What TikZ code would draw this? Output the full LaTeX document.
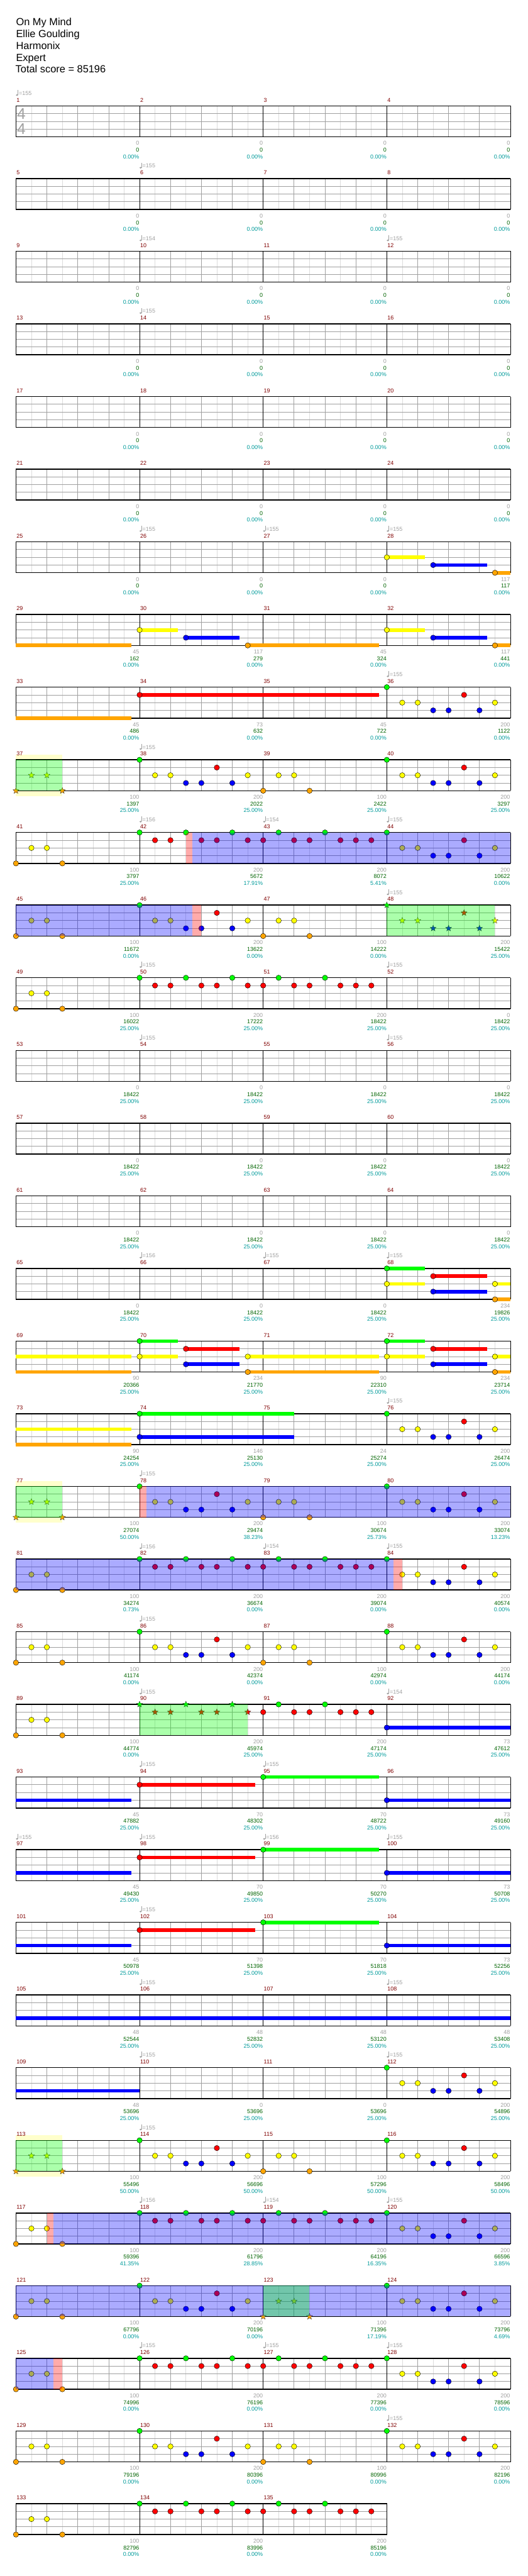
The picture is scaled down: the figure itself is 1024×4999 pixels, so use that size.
\documentclass[tikz,border=0pt]{standalone}
\usepackage{fontspec}
\setmainfont{Liberation Sans}
\usetikzlibrary{shapes.geometric}
\definecolor{lc0}{HTML}{00FF00}
\definecolor{lc1}{HTML}{FF0000}
\definecolor{lc2}{HTML}{FFFF00}
\definecolor{lc3}{HTML}{0000FF}
\definecolor{lc4}{HTML}{FFA500}
\definecolor{mnumc}{HTML}{800000}
\definecolor{gryc}{HTML}{A0A0A0}
\definecolor{grnc}{HTML}{006400}
\definecolor{teac}{HTML}{009B9B}
\definecolor{gline}{HTML}{A0A0A0}
\definecolor{lline}{HTML}{DCDCDC}
\definecolor{bandc}{HTML}{FFFFCC}
\tikzset{
  notest/.style={draw=black, line width=0.5pt},
  starst/.style={star, star points=5, star point ratio=2.3, minimum size=12.5pt, inner sep=0pt, draw=black!85, line width=0.4pt},
  small/.style={inner sep=0pt, font=\fontsize{11}{13}\selectfont},
  gry/.style={small, anchor=east, text=gryc},
  grn/.style={small, anchor=east, text=grnc},
  tea/.style={small, anchor=east, text=teac},
  mnum/.style={small, anchor=west, text=mnumc},
  tmp/.style={small, anchor=west, text=gryc},
  ttl/.style={anchor=base west, inner sep=0pt, font=\fontsize{20}{24}\selectfont},
}
% note, star, sustain
\newcommand\gNote[3]{\filldraw[notest, fill=lc#3] ({31+30*(#2)},{205.5+141*(#1)+15*(#3)}) circle (5.2pt);}
\newcommand\gStar[3]{\node[starst, fill=lc#3] at ({31+30*(#2)},{205.5+141*(#1)+15*(#3)}) {};}
\newcommand\gSus[4]{\fill[lc#4] ({31+30*(#2)},{205.5+141*(#1)+15*(#4)-3.5}) rectangle ({31+30*(#3)},{205.5+141*(#1)+15*(#4)+3.5});}
% patterns
\newcommand\gX[3]{#3{#1}{#2}{4}#3{#1}{#2+1}{2}#3{#1}{#2+2}{2}#3{#1}{#2+3}{4}}
\newcommand\gY[3]{#3{#1}{#2}{0}#3{#1}{#2+1}{2}#3{#1}{#2+2}{2}#3{#1}{#2+3}{3}#3{#1}{#2+4}{3}#3{#1}{#2+5}{1}#3{#1}{#2+6}{3}#3{#1}{#2+7}{2}}
\newcommand\gZa[3]{#3{#1}{#2}{0}#3{#1}{#2+1}{1}#3{#1}{#2+2}{1}#3{#1}{#2+3}{0}#3{#1}{#2+4}{1}#3{#1}{#2+5}{1}#3{#1}{#2+6}{0}#3{#1}{#2+7}{1}}
\newcommand\gZb[3]{#3{#1}{#2}{1}#3{#1}{#2+1}{0}#3{#1}{#2+2}{1}#3{#1}{#2+3}{1}#3{#1}{#2+4}{0}#3{#1}{#2+5}{1}#3{#1}{#2+6}{1}#3{#1}{#2+7}{1}}
% regions
\newcommand\gReg[4]{\fill[#4, fill opacity=0.33] ({31+30*(#2)},{205.5+141*(#1)}) rectangle ({31+30*(#3)},{205.5+141*(#1)+60});}
\newcommand\gBand[3]{\fill[bandc] ({31+30*(#2)},{205.5+141*(#1)-10}) rectangle ({31+30*(#3)},{205.5+141*(#1)+70});}
% staff
\newcommand\gStaff[2]{%
  \pgfmathsetmacro\gty{205.5+141*#1}%
  \pgfmathsetmacro\gtx{31+240*#2}%
  \pgfmathtruncatemacro\gne{8*#2-1}%
  \pgfmathtruncatemacro\gnm{#2-1}%
  \fill[white] (31,\gty) rectangle (\gtx,\gty+60);
  \foreach \k in {1,3,...,\gne} \draw[lline, line width=0.8pt] ({31+30*\k},\gty) -- ++(0,60);
  \foreach \k in {2,4,...,\gne} \draw[gline, line width=0.9pt] ({31+30*\k},\gty) -- ++(0,60);
  \foreach \l in {15,30,45} \draw[gline, line width=1pt] (31,\gty+\l) -- (\gtx,\gty+\l);
  \foreach \j in {1,...,\gnm} \draw[black, line width=0.9pt] ({31+240*\j},\gty) -- ++(0,60);
  \draw[black, line width=1.8pt] (30.5,\gty) -- (\gtx+0.5,\gty) (30.5,\gty+60) -- (\gtx+0.5,\gty+60);
  \draw[black, line width=1pt] (31,\gty) -- (31,\gty+60) (\gtx,\gty) -- (\gtx,\gty+60);
}
\newcommand\gNums[2]{\foreach \j/\a/\b/\c in {#2}{%
  \node[gry] at ({31+240*(\j+1)-0.5},{205.5+141*(#1)+72.5}) {\a};
  \node[grn] at ({31+240*(\j+1)-0.5},{205.5+141*(#1)+85.5}) {\b};
  \node[tea] at ({31+240*(\j+1)-0.5},{205.5+141*(#1)+98.5}) {\c\%};}}
\newcommand\gTempo[3]{%
  \fill[gryc] ({31+240*(#2)+2},{205.5+141*(#1)-21}) ellipse (2.2pt and 1.7pt);
  \draw[gryc, line width=0.6pt] ({31+240*(#2)+4},{205.5+141*(#1)-21}) -- ++(0,-10);
  \node[tmp] at ({31+240*(#2)+5.5},{205.5+141*(#1)-24.5}) {=#3};}
\begin{document}
\begin{tikzpicture}[x=1pt, y=-1pt]
\useasboundingbox (0,0) rectangle (1024,4999);
\fill[white] (0,0) rectangle (1024,4999);
% title
\node[ttl] (t1) at (31,49.5) {On My Mind};
\node[ttl] (t2) at (31,72.5) {Ellie Goulding};
\node[ttl] (t3) at (31,95.5) {Harmonix};
\node[ttl] (t4) at (31,118.5) {Expert};
\node[ttl] (t5) at (30,141.5) {Total score = 85196};
% bands
\gBand{9}{0}{3}
\gBand{19}{0}{3}
\gBand{28}{0}{3}
% staffs
\foreach \r in {0,...,32} {\gStaff{\r}{4}}
\gStaff{33}{3}
% time signature
\node[inner sep=0pt, anchor=west, text=gryc, font=\fontsize{30}{30}\selectfont] (ts1) at (33,220.5) {4};
\node[inner sep=0pt, anchor=west, text=gryc, font=\fontsize{30}{30}\selectfont] (ts2) at (33,250.5) {4};
% measure numbers
\foreach \r in {0,...,32}{\foreach \j in {0,...,3}{\pgfmathtruncatemacro\mn{4*\r+\j+1}\node[mnum] at ({32+240*\j},{194+141*\r}) {\mn};}}
\foreach \j in {0,1,2}{\pgfmathtruncatemacro\mn{133+\j}\node[mnum] at ({32+240*\j},{194+141*33}) {\mn};}
% tempos
\foreach \r/\j/\b in {0/0/155, 1/1/155, 2/1/154, 2/3/155, 3/1/155, 6/1/155, 6/2/155, 6/3/155, 8/3/155, 9/1/155, 10/1/156, 10/2/154, 10/3/155, 11/3/155, 12/1/155, 12/3/155, 13/1/155, 13/3/155, 16/1/156, 16/2/155, 16/3/155, 18/3/155, 19/1/155, 20/1/156, 20/2/154, 20/3/155, 21/1/155, 22/1/155, 22/3/154, 23/1/155, 23/2/155, 24/0/155, 24/1/155, 24/2/156, 24/3/155, 25/1/155, 26/1/155, 26/3/155, 27/1/155, 27/3/155, 28/1/155, 29/1/156, 29/2/154, 29/3/155, 31/1/155, 31/2/155, 31/3/155, 32/3/155} {\gTempo{\r}{\j}{\b}}
% score numbers
\foreach \r in {0,...,5}{\gNums{\r}{0/0/0/0.00,1/0/0/0.00,2/0/0/0.00,3/0/0/0.00}}
\gNums{6}{0/0/0/0.00,1/0/0/0.00,2/0/0/0.00,3/117/117/0.00}
\gNums{7}{0/45/162/0.00,1/117/279/0.00,2/45/324/0.00,3/117/441/0.00}
\gNums{8}{0/45/486/0.00,1/73/632/0.00,2/45/722/0.00,3/200/1122/0.00}
\gNums{9}{0/100/1397/25.00,1/200/2022/25.00,2/100/2422/25.00,3/200/3297/25.00}
\gNums{10}{0/100/3797/25.00,1/200/5672/17.91,2/200/8072/5.41,3/200/10622/0.00}
\gNums{11}{0/100/11672/0.00,1/200/13622/0.00,2/100/14222/0.00,3/200/15422/25.00}
\gNums{12}{0/100/16022/25.00,1/200/17222/25.00,2/200/18422/25.00,3/0/18422/25.00}
\foreach \r in {13,14,15}{\gNums{\r}{0/0/18422/25.00,1/0/18422/25.00,2/0/18422/25.00,3/0/18422/25.00}}
\gNums{16}{0/0/18422/25.00,1/0/18422/25.00,2/0/18422/25.00,3/234/19826/25.00}
\gNums{17}{0/90/20366/25.00,1/234/21770/25.00,2/90/22310/25.00,3/234/23714/25.00}
\gNums{18}{0/90/24254/25.00,1/146/25130/25.00,2/24/25274/25.00,3/200/26474/25.00}
\gNums{19}{0/100/27074/50.00,1/200/29474/38.23,2/100/30674/25.73,3/200/33074/13.23}
\gNums{20}{0/100/34274/0.73,1/200/36674/0.00,2/200/39074/0.00,3/200/40574/0.00}
\gNums{21}{0/100/41174/0.00,1/200/42374/0.00,2/100/42974/0.00,3/200/44174/0.00}
\gNums{22}{0/100/44774/0.00,1/200/45974/25.00,2/200/47174/25.00,3/73/47612/25.00}
\gNums{23}{0/45/47882/25.00,1/70/48302/25.00,2/70/48722/25.00,3/73/49160/25.00}
\gNums{24}{0/45/49430/25.00,1/70/49850/25.00,2/70/50270/25.00,3/73/50708/25.00}
\gNums{25}{0/45/50978/25.00,1/70/51398/25.00,2/70/51818/25.00,3/73/52256/25.00}
\gNums{26}{0/48/52544/25.00,1/48/52832/25.00,2/48/53120/25.00,3/48/53408/25.00}
\gNums{27}{0/48/53696/25.00,1/0/53696/25.00,2/0/53696/25.00,3/200/54896/25.00}
\gNums{28}{0/100/55496/50.00,1/200/56696/50.00,2/100/57296/50.00,3/200/58496/50.00}
\gNums{29}{0/100/59396/41.35,1/200/61796/28.85,2/200/64196/16.35,3/200/66596/3.85}
\gNums{30}{0/100/67796/0.00,1/200/70196/0.00,2/100/71396/17.19,3/200/73796/4.69}
\gNums{31}{0/100/74996/0.00,1/200/76196/0.00,2/200/77396/0.00,3/200/78596/0.00}
\gNums{32}{0/100/79196/0.00,1/200/80396/0.00,2/100/80996/0.00,3/200/82196/0.00}
\gNums{33}{0/100/82796/0.00,1/200/83996/0.00,2/200/85196/0.00}
% ---- row 6 (25-28)
\gSus{6}{24}{26.48}{2}\gSus{6}{27}{30.48}{3}\gSus{6}{31}{32}{4}
\gNote{6}{24}{2}\gNote{6}{27}{3}\gNote{6}{31}{4}
% ---- row 7 (29-32)
\gSus{7}{0}{7.48}{4}\gSus{7}{8}{10.48}{2}\gSus{7}{11}{14.48}{3}\gSus{7}{15}{23.48}{4}\gSus{7}{24}{26.48}{2}\gSus{7}{27}{30.48}{3}\gSus{7}{31}{32}{4}
\gNote{7}{8}{2}\gNote{7}{11}{3}\gNote{7}{15}{4}\gNote{7}{24}{2}\gNote{7}{27}{3}\gNote{7}{31}{4}
% ---- row 8 (33-36)
\gSus{8}{0}{7.48}{4}\gSus{8}{8}{23.48}{1}\gNote{8}{8}{1}
\gY{8}{24}{\gNote}
% ---- row 9 (37-40)
\gX{9}{0}{\gStar}\gY{9}{8}{\gNote}\gX{9}{16}{\gNote}\gY{9}{24}{\gNote}
\gReg{9}{0}{3}{lc0}
% ---- row 10 (41-44)
\gX{10}{0}{\gNote}\gZa{10}{8}{\gNote}\gZb{10}{16}{\gNote}\gY{10}{24}{\gNote}
\gReg{10}{11}{11.43}{lc1}\gReg{10}{11.43}{32}{lc3}
% ---- row 11 (45-48)
\gX{11}{0}{\gNote}\gY{11}{8}{\gNote}\gX{11}{16}{\gNote}\gY{11}{24}{\gStar}
\gReg{11}{0}{11.43}{lc3}\gReg{11}{11.43}{12}{lc1}\gReg{11}{24}{31}{lc0}
% ---- row 12 (49-52)
\gX{12}{0}{\gNote}\gZa{12}{8}{\gNote}\gZb{12}{16}{\gNote}
% ---- row 16 (65-68)
\gSus{16}{24}{26.48}{0}\gSus{16}{24}{26.48}{2}\gSus{16}{27}{30.48}{1}\gSus{16}{27}{30.48}{3}\gSus{16}{31}{32}{2}\gSus{16}{31}{32}{4}
\gNote{16}{24}{0}\gNote{16}{24}{2}\gNote{16}{27}{1}\gNote{16}{27}{3}\gNote{16}{31}{2}\gNote{16}{31}{4}
% ---- row 17 (69-72)
\gSus{17}{0}{7.48}{2}\gSus{17}{0}{7.48}{4}
\gSus{17}{8}{10.48}{0}\gSus{17}{8}{10.48}{2}\gSus{17}{11}{14.48}{1}\gSus{17}{11}{14.48}{3}\gSus{17}{15}{23.48}{2}\gSus{17}{15}{23.48}{4}
\gSus{17}{24}{26.48}{0}\gSus{17}{24}{26.48}{2}\gSus{17}{27}{30.48}{1}\gSus{17}{27}{30.48}{3}\gSus{17}{31}{32}{2}\gSus{17}{31}{32}{4}
\gNote{17}{8}{0}\gNote{17}{8}{2}\gNote{17}{11}{1}\gNote{17}{11}{3}\gNote{17}{15}{2}\gNote{17}{15}{4}
\gNote{17}{24}{0}\gNote{17}{24}{2}\gNote{17}{27}{1}\gNote{17}{27}{3}\gNote{17}{31}{2}\gNote{17}{31}{4}
% ---- row 18 (73-76)
\gSus{18}{0}{7.48}{2}\gSus{18}{0}{7.48}{4}\gSus{18}{8}{18}{0}\gSus{18}{8}{18}{3}
\gNote{18}{8}{0}\gNote{18}{8}{3}
\gY{18}{24}{\gNote}
% ---- row 19 (77-80)
\gX{19}{0}{\gStar}\gY{19}{8}{\gNote}\gX{19}{16}{\gNote}\gY{19}{24}{\gNote}
\gReg{19}{0}{3}{lc0}\gReg{19}{8}{8.43}{lc1}\gReg{19}{8.43}{32}{lc3}
% ---- row 20 (81-84)
\gX{20}{0}{\gNote}\gZa{20}{8}{\gNote}\gZb{20}{16}{\gNote}\gY{20}{24}{\gNote}
\gReg{20}{0}{24.43}{lc3}\gReg{20}{24.43}{25}{lc1}
% ---- row 21 (85-88)
\gX{21}{0}{\gNote}\gY{21}{8}{\gNote}\gX{21}{16}{\gNote}\gY{21}{24}{\gNote}
% ---- row 22 (89-92)
\gX{22}{0}{\gNote}\gZa{22}{8}{\gStar}\gZb{22}{16}{\gNote}
\gSus{22}{24}{32}{3}\gNote{22}{24}{3}
\gReg{22}{8}{15}{lc0}
% ---- rows 23-25
\foreach \r in {23,24,25}{
  \gSus{\r}{0}{7.48}{3}\gSus{\r}{8}{15.48}{1}\gSus{\r}{16}{23.48}{0}\gSus{\r}{24}{32}{3}
  \gNote{\r}{8}{1}\gNote{\r}{16}{0}\gNote{\r}{24}{3}
}
% ---- row 26 (105-108)
\gSus{26}{0}{32}{3}
% ---- row 27 (109-112)
\gSus{27}{0}{8}{3}
\gY{27}{24}{\gNote}
% ---- row 28 (113-116)
\gX{28}{0}{\gStar}\gY{28}{8}{\gNote}\gX{28}{16}{\gNote}\gY{28}{24}{\gNote}
\gReg{28}{0}{3}{lc0}
% ---- row 29 (117-120)
\gX{29}{0}{\gNote}\gZa{29}{8}{\gNote}\gZb{29}{16}{\gNote}\gY{29}{24}{\gNote}
\gReg{29}{2}{2.43}{lc1}\gReg{29}{2.43}{32}{lc3}
% ---- row 30 (121-124)
\gX{30}{0}{\gNote}\gY{30}{8}{\gNote}\gX{30}{16}{\gStar}\gY{30}{24}{\gNote}
\gReg{30}{0}{32}{lc3}\gReg{30}{16}{19}{lc0}
% ---- row 31 (125-128)
\gX{31}{0}{\gNote}\gZa{31}{8}{\gNote}\gZb{31}{16}{\gNote}\gY{31}{24}{\gNote}
\gReg{31}{0}{2.43}{lc3}\gReg{31}{2.43}{3}{lc1}
% ---- row 32 (129-132)
\gX{32}{0}{\gNote}\gY{32}{8}{\gNote}\gX{32}{16}{\gNote}\gY{32}{24}{\gNote}
% ---- row 33 (133-135)
\gX{33}{0}{\gNote}\gZa{33}{8}{\gNote}\gZb{33}{16}{\gNote}
\end{tikzpicture}
\end{document}
